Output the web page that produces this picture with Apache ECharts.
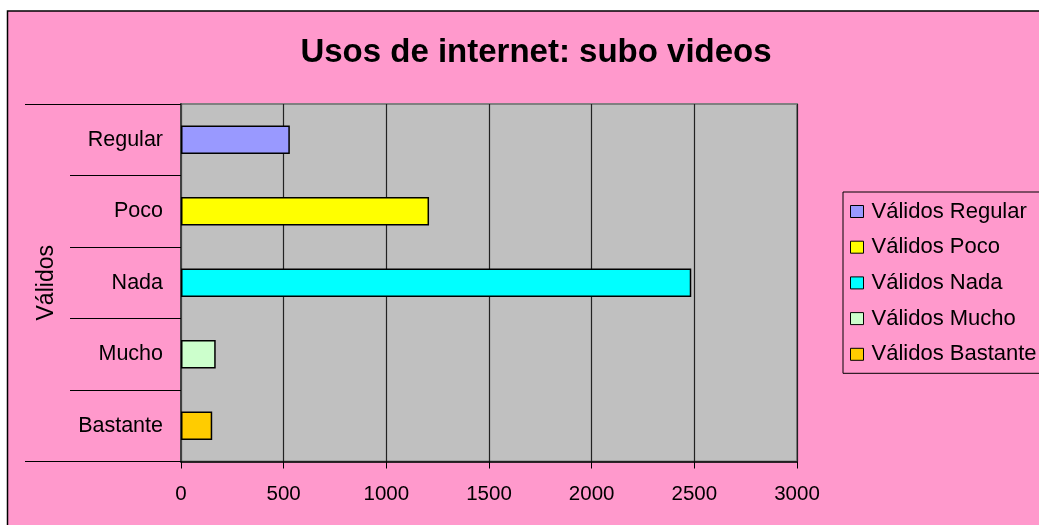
<!DOCTYPE html>
<html>
<head>
<meta charset="utf-8">
<script src="https://cdn.jsdelivr.net/npm/echarts@6/dist/echarts.min.js"></script>
<style>
html,body{margin:0;padding:0;background:#fff;}
#chart{width:1039px;height:525px;}
</style>
</head>
<body>
<div id="chart"></div>
<script>
var titleText = 'Usos de internet: subo videos';
var groupLabel = 'Válidos';
var categories = ['Regular', 'Poco', 'Nada', 'Mucho', 'Bastante'];
var values = [530, 1208, 2485, 169, 152];
var colors = ['#9999FF', '#FFFF00', '#00FFFF', '#CCFFCC', '#FFCC00'];
var xTicks = [0, 500, 1000, 1500, 2000, 2500, 3000];

var FONT = '"Liberation Sans", Arial, sans-serif';

var series = categories.map(function (c, i) {
  return {
    name: groupLabel + ' ' + c,
    type: 'bar',
    stack: 'all',
    barWidth: '40%',
    yAxisIndex: 0,
    itemStyle: { color: colors[i], borderColor: '#000', borderWidth: 1.5 },
    data: categories.map(function (cc, j) { return j === i ? values[i] : '-'; })
  };
});

var chart = echarts.init(document.getElementById('chart'), null, { renderer: 'canvas' });
chart.setOption({
  animation: false,
  backgroundColor: '#ffffff',
  graphic: [{
    type: 'rect',
    z: -10,
    shape: { x: 7.5, y: 11, width: 1100, height: 600 },
    style: { fill: '#FF99CC', stroke: '#000', lineWidth: 1.5 }
  }],
  title: {
    text: titleText,
    left: 531,
    textAlign: 'center',
    top: 31,
    textStyle: { fontFamily: FONT, fontSize: 33, fontWeight: 'bold', color: '#000' }
  },
  legend: {
    orient: 'vertical',
    left: 843,
    top: 192,
    padding: [8.5, 60, 8, 7],
    borderColor: '#000',
    borderWidth: 1,
    backgroundColor: '#FF99CC',
    itemWidth: 13,
    itemHeight: 12,
    itemGap: 13.7,
    icon: 'rect',
    itemStyle: { borderColor: '#000', borderWidth: 1 },
    textStyle: { fontFamily: FONT, fontSize: 22, lineHeight: 22, color: '#000', padding: [0, 0, 0, 3] },
    data: series.map(function (s) { return s.name; })
  },
  grid: {
    left: 181, right: 242, top: 104, bottom: 63.5,
    show: true,
    backgroundColor: '#C0C0C0',
    borderColor: '#808080',
    borderWidth: 2
  },
  xAxis: {
    type: 'value',
    min: xTicks[0],
    max: xTicks[xTicks.length - 1],
    interval: 500,
    axisLine: { show: true, lineStyle: { color: '#000', width: 1.5 } },
    axisTick: { show: true, length: 7, lineStyle: { color: '#000' } },
    splitLine: { show: true, lineStyle: { color: '#222', width: 1.2 } },
    axisLabel: { fontFamily: FONT, fontSize: 20.5, color: '#000', margin: 22,
      formatter: function (v) { return String(v); } }
  },
  yAxis: [{
    type: 'category',
    inverse: true,
    data: categories,
    axisLine: { show: true, lineStyle: { color: '#404040', width: 2 } },
    axisTick: { show: true, length: 111, alignWithLabel: false, lineStyle: { color: '#000', width: 1.2 } },
    axisLabel: { fontFamily: FONT, fontSize: 21.5, color: '#000', margin: 18 },
    splitLine: { show: false }
  }, {
    type: 'category',
    position: 'left',
    data: [groupLabel],
    axisLine: { show: false },
    axisTick: { show: true, length: 156, lineStyle: { color: '#000', width: 1.2 } },
    axisLabel: { fontFamily: FONT, fontSize: 23, color: '#000', rotate: 90, margin: 123 },
    splitLine: { show: false }
  }],
  series: series
});
</script>
</body>
</html>
